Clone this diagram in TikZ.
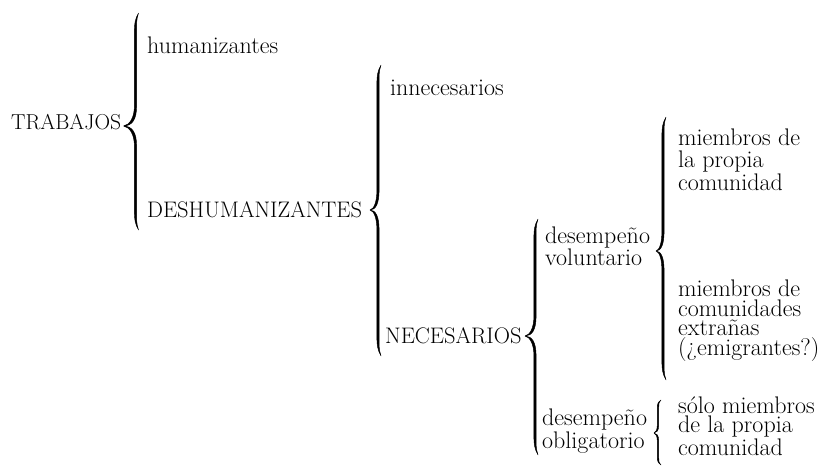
\documentclass[tikz,border=0pt]{standalone}
\newcommand\cbrace[7]{%
\filldraw[line width=0.45pt,line join=round]
 (#1+3,#2) .. controls (#1-0.3*#6,#2+0.3*#7) and (#1-#6,#2+0.5*#7) .. (#1-#6,#2+#7)
 -- (#1-#6,#3-#7) .. controls (#1-#6,#3-0.4*#7) and (#1-0.5*#5,#3-1) .. (#1-#5,#3)
 .. controls (#1-0.5*#5,#3+1) and (#1-#6,#3+0.4*#7) .. (#1-#6,#3+#7)
 -- (#1-#6,#4-#7) .. controls (#1-#6,#4-0.5*#7) and (#1-0.3*#6,#4-0.3*#7) .. (#1+3,#4)
 .. controls (#1+0.6*#6,#4-0.35*#7) and (#1+#6,#4-0.55*#7) .. (#1+#6,#4-#7)
 -- (#1+#6,#3+#7) .. controls (#1+#6,#3+0.3*#7) and (#1-0.3*#5,#3+0.2) .. (#1-#5,#3)
 .. controls (#1-0.3*#5,#3-0.2) and (#1+#6,#3-0.3*#7) .. (#1+#6,#3-#7)
 -- (#1+#6,#2+#7) .. controls (#1+#6,#2+0.55*#7) and (#1+0.6*#6,#2+0.35*#7) .. cycle;}
\tikzset{
  lbl/.style={anchor=base west, inner sep=0pt, align=left, font=\fontsize{24}{21}\selectfont},
  capslbl/.style={anchor=base west, inner sep=0pt, font=\fontsize{22.5}{21}\selectfont}
}
\begin{document}
\begin{tikzpicture}[x=1pt,y=-1pt]
\useasboundingbox (0,0) rectangle (821,466);
% labels
\node[capslbl, font=\fontsize{21.6}{21}\selectfont] (trab) at (11,129) {TRABAJOS};
\node[lbl] (hum) at (147,53) {humanizantes};
\node[capslbl] (desh) at (147,217) {DESHUMANIZANTES};
\node[lbl] (inn) at (390,95) {innecesarios};
\node[capslbl] (nec) at (385,343) {NECESARIOS};
\node[lbl, font=\fontsize{24}{22}\selectfont] (vol) at (545,265) {desempeño\\voluntario};
\node[lbl, font=\fontsize{24}{21}\selectfont] (obl) at (542,448) {desempeño\\obligatorio};
\node[lbl, font=\fontsize{24}{22.5}\selectfont] (prop) at (678,190) {miembros de\\la propia\\comunidad};
\node[lbl, font=\fontsize{24}{19.5}\selectfont] (ext) at (678,355) {miembros de\\comunidades\\extrañas\\(¿emigrantes?)};
\node[lbl, font=\fontsize{24}{19.5}\selectfont] (solo) at (678,455) {sólo miembros\\de la propia\\comunidad};
% braces
\cbrace{135.5}{13}{126}{230}{12}{1.1}{20}
\cbrace{378}{65}{210}{356}{8}{1.1}{20}
\cbrace{535}{219}{336}{455}{10}{1.1}{20}
\cbrace{663}{117}{251}{380}{7}{1.1}{20}
\cbrace{658}{400}{433}{465}{4}{0.7}{8}
\end{tikzpicture}
\end{document}
